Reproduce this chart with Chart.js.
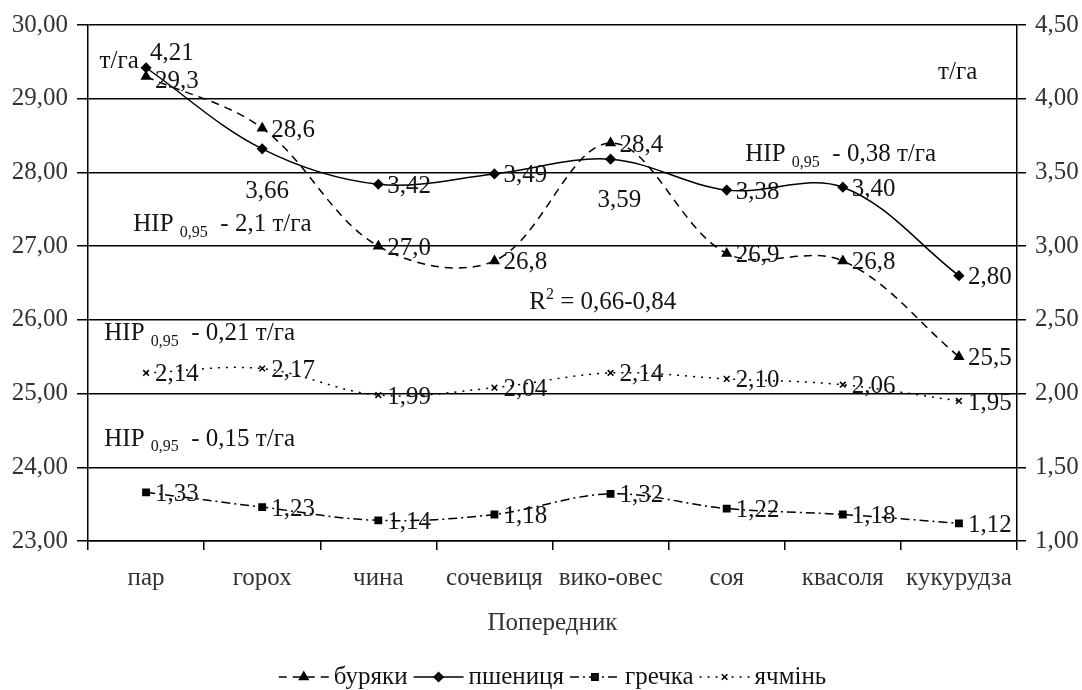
<!DOCTYPE html>
<html>
<head>
<meta charset="utf-8">
<script src="https://cdn.jsdelivr.net/npm/chart.js@4.4.1/dist/chart.umd.min.js"></script>
<style>
html,body{margin:0;padding:0;background:#fff;}
canvas{display:block;}
</style>
</head>
<body>
<canvas id="c" width="1082" height="690"></canvas>
<script>
const categories = ['пар', 'горох', 'чина', 'сочевиця', 'вико-овес', 'соя', 'квасоля', 'кукурудза'];
const buryaky    = [29.3, 28.6, 27.0, 26.8, 28.4, 26.9, 26.8, 25.5];
const pshenytsia = [4.21, 3.66, 3.42, 3.49, 3.59, 3.38, 3.40, 2.80];
const hrechka    = [1.33, 1.23, 1.14, 1.18, 1.32, 1.22, 1.18, 1.12];
const yachmin    = [2.14, 2.17, 1.99, 2.04, 2.14, 2.10, 2.06, 1.95];
const leftTicks  = [23, 24, 25, 26, 27, 28, 29, 30];
const rightTicks = [1.0, 1.5, 2.0, 2.5, 3.0, 3.5, 4.0, 4.5];
const seriesNames = ['буряки', 'пшениця', 'гречка', 'ячмінь'];
const axisTitle = 'Попередник';

const FONT = "'Liberation Serif', 'Times New Roman', serif";
const FS = 25;
const fmt = (v, d) => v.toFixed(d).replace('.', ',');

// annotation anchors in data units (category index, left-axis value)
const notes = [
  {i: -0.40, v: 29.50, parts: [['т/га']]},
  {i: 6.82,  v: 29.35, parts: [['т/га']]},
  {i: -0.11, v: 27.29, parts: [['НІР '], ['0,95', 'sub'], ['  - 2,1 т/га']]},
  {i: 5.16,  v: 28.24, parts: [['НІР '], ['0,95', 'sub'], ['  - 0,38 т/га']]},
  {i: 3.30,  v: 26.23, parts: [['R'], ['2', 'sup'], [' = 0,66-0,84']]},
  {i: -0.36, v: 25.81, parts: [['НІР '], ['0,95', 'sub'], ['  - 0,21 т/га']]},
  {i: -0.36, v: 24.38, parts: [['НІР '], ['0,95', 'sub'], ['  - 0,15 т/га']]}
];

// label offsets (px) per dataset index and point index
const labelShift = {
  0: {0: [9, 5]},
  1: {0: [4, -14], 1: [-17, 43], 4: [-13, 41]}
};

const labelsPlugin = {
  id: 'labelsPlugin',
  afterDatasetsDraw(chart) {
    const ctx = chart.ctx;
    ctx.save();
    ctx.font = FS + 'px ' + FONT;
    ctx.fillStyle = '#141414';
    ctx.textBaseline = 'middle';
    ctx.textAlign = 'left';
    chart.data.datasets.forEach((ds, di) => {
      const meta = chart.getDatasetMeta(di);
      meta.data.forEach((pt, pi) => {
        const s = (labelShift[di] && labelShift[di][pi]) || [9, 2];
        ctx.fillText(fmt(ds.data[pi], ds.decimals), pt.x + s[0], pt.y + s[1]);
      });
    });
    // annotations
    const xs = chart.scales.x, ys = chart.scales.yL;
    notes.forEach(n => {
      let x = xs.getPixelForValue(n.i);
      const y = ys.getPixelForValue(n.v);
      n.parts.forEach(p => {
        if (p[1] === 'sub') {
          ctx.font = '16px ' + FONT;
          ctx.fillText(p[0], x, y + 8);
        } else if (p[1] === 'sup') {
          ctx.font = '16px ' + FONT;
          ctx.fillText(p[0], x, y - 8);
        } else {
          ctx.font = FS + 'px ' + FONT;
          ctx.fillText(p[0], x, y);
        }
        x += ctx.measureText(p[0]).width;
      });
    });
    ctx.restore();
  },
  afterDraw(chart) {
    // legend
    const ctx = chart.ctx;
    const ca = chart.chartArea;
    ctx.save();
    ctx.font = FS + 'px ' + FONT;
    const symW = 50, gap1 = 5, gap2 = 6;
    const items = chart.data.datasets.map(ds => ({ds, w: symW + gap1 + ctx.measureText(ds.label).width}));
    const total = items.reduce((a, b) => a + b.w, 0) + gap2 * (items.length - 1);
    let x = (ca.left + ca.right) / 2 - total / 2;
    const y = 677;
    items.forEach(it => {
      const ds = it.ds;
      ctx.strokeStyle = '#000';
      ctx.lineWidth = 1.5;
      ctx.setLineDash(ds.borderDash || []);
      ctx.beginPath();
      ctx.moveTo(x, y);
      ctx.lineTo(x + symW, y);
      ctx.stroke();
      ctx.setLineDash([]);
      Chart.helpers.drawPoint(ctx, {pointStyle: ds.pointStyle, radius: ds.pointRadius, rotation: 0, borderWidth: 1.5}, x + symW / 2, y);
      ctx.fillStyle = '#000';
      ctx.fill && 0;
      ctx.fillStyle = '#141414';
      ctx.textBaseline = 'middle';
      ctx.textAlign = 'left';
      ctx.fillText(ds.label, x + symW + gap1, y);
      x += it.w + gap2;
    });
    ctx.restore();
  }
};

const common = {
  borderColor: '#000', backgroundColor: '#000', pointBackgroundColor: '#000', pointBorderColor: '#000',
  borderWidth: 1.5, tension: 0.35, pointBorderWidth: 1.5, fill: false
};

new Chart(document.getElementById('c'), {
  type: 'line',
  data: {
    labels: categories,
    datasets: [
      Object.assign({}, common, {label: seriesNames[0], data: buryaky, yAxisID: 'yL', borderDash: [8, 6], pointStyle: 'triangle', pointRadius: 5, decimals: 1}),
      Object.assign({}, common, {label: seriesNames[1], data: pshenytsia, yAxisID: 'yR', borderDash: [], pointStyle: 'rectRot', pointRadius: 4.5, decimals: 2}),
      Object.assign({}, common, {label: seriesNames[2], data: hrechka, yAxisID: 'yR', borderDash: [9, 4, 2, 4], pointStyle: 'rect', pointRadius: 4.5, decimals: 2}),
      Object.assign({}, common, {label: seriesNames[3], data: yachmin, yAxisID: 'yR', borderDash: [2, 6], pointStyle: 'crossRot', pointRadius: 4, decimals: 2})
    ]
  },
  options: {
    responsive: false,
    animation: false,
    devicePixelRatio: 1,
    layout: {padding: {top: 25, bottom: 49, left: 0, right: 0}},
    plugins: {legend: {display: false}, tooltip: {enabled: false}},
    scales: {
      x: {
        type: 'category',
        offset: true,
        grid: {offset: true, drawOnChartArea: false, drawTicks: true, tickLength: 9, color: '#000', lineWidth: 1.5},
        border: {color: '#000', width: 1.5},
        ticks: {font: {family: FONT, size: FS}, color: '#333', padding: 13, maxRotation: 0, autoSkip: false},
        title: {display: true, text: axisTitle, font: {family: FONT, size: FS}, color: '#333', padding: {top: 0, bottom: 3}},
        afterFit(s) { s.height = 100; }
      },
      yL: {
        type: 'linear', position: 'left', min: 23, max: 30,
        afterBuildTicks(s) { s.ticks = leftTicks.map(v => ({value: v})); },
        grid: {color: '#000', lineWidth: 1.5, tickLength: 11},
        border: {color: '#000', width: 1.5},
        ticks: {font: {family: FONT, size: FS}, color: '#333', padding: 9, callback: v => fmt(v, 2)},
        afterFit(s) { s.width = 88; }
      },
      yR: {
        type: 'linear', position: 'right', min: 1, max: 4.5,
        afterBuildTicks(s) { s.ticks = rightTicks.map(v => ({value: v})); },
        grid: {drawOnChartArea: false, color: '#000', lineWidth: 1.5, tickLength: 9},
        border: {color: '#000', width: 1.5},
        ticks: {font: {family: FONT, size: FS}, color: '#333', padding: 9, callback: v => fmt(v, 2)},
        afterFit(s) { s.width = 65; }
      }
    }
  },
  plugins: [labelsPlugin]
});
</script>
</body>
</html>
